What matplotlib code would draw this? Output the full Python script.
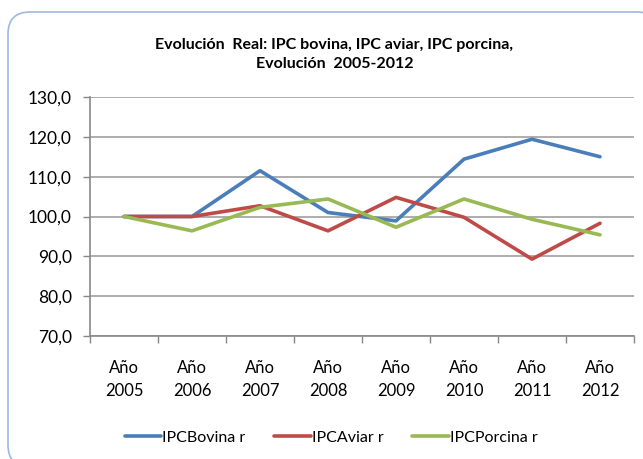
import matplotlib.pyplot as plt
from matplotlib.patches import PathPatch
from matplotlib.path import Path
from matplotlib.ticker import FixedLocator, FuncFormatter

years = ['Año\n2005', 'Año\n2006', 'Año\n2007', 'Año\n2008',
         'Año\n2009', 'Año\n2010', 'Año\n2011', 'Año\n2012']
bovina = [100.0, 100.0, 111.5, 101.0, 98.9, 114.4, 119.4, 115.0]
aviar = [100.0, 100.0, 102.7, 96.4, 104.8, 99.8, 89.3, 98.3]
porcina = [100.0, 96.4, 102.3, 104.4, 97.3, 104.4, 99.3, 95.4]

plt.rcParams['font.family'] = ['Lato', 'DejaVu Sans']

fig = plt.figure(figsize=(6.43, 4.59), dpi=100)

# rounded frame (pixel units), cut off by the right and bottom edges
W, H = 643, 459
left, right, top, bottom, r = 8, W + 16, H - 12, -8, 22
verts = [(right, top - r), (right, top), (right - r, top),
         (left + r, top), (left, top), (left, top - r),
         (left, bottom + r), (left, bottom), (left + r, bottom), (right, bottom)]
codes = [Path.MOVETO, Path.CURVE3, Path.CURVE3,
         Path.LINETO, Path.CURVE3, Path.CURVE3,
         Path.LINETO, Path.CURVE3, Path.CURVE3, Path.LINETO]
frame = PathPatch(Path([(vx / W, vy / H) for vx, vy in verts], codes),
                  transform=fig.transFigure, fill=False,
                  edgecolor='#9DB9DD', linewidth=1.2)
fig.add_artist(frame)

ax = fig.add_axes([90 / 643, 123 / 459, 544 / 643, 239 / 459])
x = list(range(len(years)))
ax.plot(x, bovina, color='#4A7EBB', lw=2.6, label='IPCBovina r', solid_capstyle='round')
ax.plot(x, aviar, color='#BE4B48', lw=2.6, label='IPCAviar r', solid_capstyle='round')
ax.plot(x, porcina, color='#98B954', lw=2.6, label='IPCPorcina r', solid_capstyle='round')

ax.set_xlim(-0.5, len(years) - 0.5)
ax.set_ylim(70, 130)
ax.set_yticks(range(70, 131, 10))
ax.yaxis.set_major_formatter(FuncFormatter(lambda v, p: f'{v:.1f}'.replace('.', ',')))
ax.set_xticks(x)
ax.set_xticklabels(years, fontsize=12, linespacing=1.6)
ax.xaxis.set_minor_locator(FixedLocator([i - 0.5 for i in range(len(years) + 1)]))
ax.tick_params(axis='x', which='major', length=0, pad=17)
ax.tick_params(axis='x', which='minor', length=5, color='#888888', width=1)
ax.tick_params(axis='y', length=5, color='#888888', width=1, labelsize=12.5, pad=8)
ax.grid(axis='y', color='#A0A0A0', lw=1.2)
ax.set_axisbelow(True)
for s in ['top', 'right']:
    ax.spines[s].set_visible(False)
ax.spines['left'].set_color('#888888')
ax.spines['bottom'].set_color('#888888')
ax.spines['left'].set_linewidth(1.2)
ax.spines['bottom'].set_linewidth(1.2)

fig.text(0.52, 0.882, 'Evolución  Real: IPC bovina, IPC aviar, IPC porcina,\nEvolución  2005-2012',
         ha='center', va='center', fontsize=11.5, fontweight='bold', linespacing=1.45)

fig.legend(loc='center', bbox_to_anchor=(0.515, 0.047), ncol=3, frameon=False,
           fontsize=11.5, handlelength=2.3, handletextpad=0.05, columnspacing=1.8)

fig.savefig('out.png', dpi=100)
